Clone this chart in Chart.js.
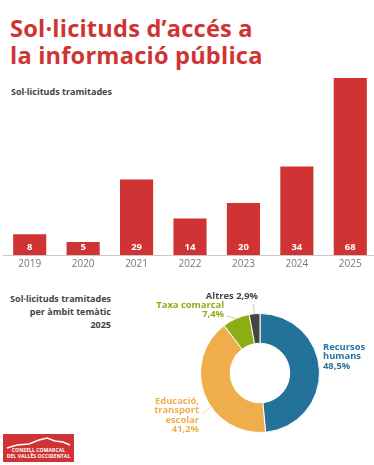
<!DOCTYPE html>
<html><head><meta charset="utf-8">
<script src="https://cdn.jsdelivr.net/npm/chart.js@4.4.1/dist/chart.umd.min.js"></script>
<style>
html,body{margin:0;padding:0;background:#fff;width:374px;height:465px;overflow:hidden;position:relative;font-family:"Open Sans",sans-serif;}
#title{position:absolute;left:10px;top:14.5px;margin:0;font-size:23.6px;line-height:27px;font-weight:700;color:#d03333;letter-spacing:0.2px;}
.sub{position:absolute;font-size:9px;font-weight:700;color:#444;line-height:13px;}
#sub1{left:11px;top:85px;}
#sub2{left:0;width:111px;text-align:right;top:291.5px;}
#barWrap{position:absolute;left:0;top:68px;width:377px;height:205px;}
#donutWrap{position:absolute;left:140px;top:280px;width:234px;height:185px;}
#logo{position:absolute;left:3px;top:434px;width:71px;height:28px;background:#d03333;}
#logo svg{position:absolute;left:0;top:0;}
#logo .t{position:absolute;left:0;width:71px;text-align:center;color:#fff;font-size:5px;font-weight:700;line-height:6px;letter-spacing:0.1px;}
</style></head>
<body>
<h1 id="title">Sol·licituds d’accés a<br>la informació pública</h1>
<div class="sub" id="sub1">Sol·licituds tramitades</div>
<div class="sub" id="sub2">Sol·licituds tramitades<br>per àmbit temàtic<br>2025</div>
<div id="barWrap"><canvas id="bar"></canvas></div>
<div id="donutWrap"><canvas id="donut"></canvas></div>
<div id="logo">
<svg width="71" height="28" viewBox="0 0 71 28"><polyline points="4,14 14,11 26,10 36,6 44,4 52,7 60,8 67,11" fill="none" stroke="#fff" stroke-width="1.4"/></svg>
<div class="t" style="top:13px">CONSELL COMARCAL</div>
<div class="t" style="top:19px">DEL VALLÈS OCCIDENTAL</div>
</div>
<script>
// ---- data ----
const years = ['2019','2020','2021','2022','2023','2024','2025'];
const requests = [8, 5, 29, 14, 20, 34, 68];
const topics = ['Recursos humans','Educació, transport escolar','Taxa comarcal','Altres'];
const topicShares = [48.5, 41.2, 7.4, 2.9];
const topicLabelLines = [['Recursos','humans'],['Educació,','transport','escolar'],['Taxa comarcal'],['Altres']];

const RED = '#d03333';
const topicColors = ['#22729a','#efad4b','#8cad14','#444444'];
const topicTextColors = ['#2774a0','#efad4b','#8cad14','#444444'];
const FONT = '"Open Sans", sans-serif';

// ---- bar chart ----
const barValuePlugin = {
  id: 'barValues',
  afterDatasetsDraw(chart) {
    const ctx = chart.ctx;
    const meta = chart.getDatasetMeta(0);
    ctx.save();
    ctx.fillStyle = '#fff';
    ctx.font = '700 9.5px ' + FONT;
    ctx.textAlign = 'center';
    ctx.textBaseline = 'middle';
    meta.data.forEach((bar, i) => {
      ctx.fillText(String(chart.data.datasets[0].data[i]), bar.x, bar.base - 8);
    });
    ctx.restore();
  }
};

new Chart(document.getElementById('bar'), {
  type: 'bar',
  data: { labels: years, datasets: [{ data: requests, backgroundColor: RED, borderWidth: 0,
    barPercentage: 0.62, categoryPercentage: 1 }] },
  options: {
    responsive: true, maintainAspectRatio: false, animation: false,
    layout: { padding: { left: 3, right: 0, top: 10, bottom: 0 } },
    plugins: { legend: { display: false }, tooltip: { enabled: false } },
    scales: {
      x: { grid: { display: false, drawTicks: false }, border: { display: true, color: '#c8c8c8', width: 1 },
        ticks: { color: '#777', font: { family: FONT, size: 10 }, padding: 3 } },
      y: { display: false, min: 0, max: 68 }
    }
  },
  plugins: [barValuePlugin]
});

// ---- donut chart ----
// label placement: text anchor offsets from chart centre and leader line (fraction along slice, end offset)
const labelPlacement = [
  { align: 'left',  dx: 63,  dy: -26, lh: 9.6, leader: null },
  { align: 'right', dx: -61, dy: 28,  lh: 9.6, leader: { frac: 0.41, ex: -58, ey: 41 } },
  { align: 'right', dx: -36, dy: -68, lh: 9.2, leader: { frac: 0.5, ex: -33, ey: -57 } },
  { align: 'right', dx: -2,  dy: -77, lh: 9.6, leader: { frac: 0.5, ex: -7, ey: -69 }, inline: true }
];
const fmt = v => v.toFixed(1).replace('.', ',') + '%';

const donutLabelPlugin = {
  id: 'donutLabels',
  afterDatasetsDraw(chart) {
    const ctx = chart.ctx;
    const meta = chart.getDatasetMeta(0);
    ctx.save();
    ctx.font = '700 9.4px ' + FONT;
    ctx.textBaseline = 'middle';
    meta.data.forEach((arc, i) => {
      const p = labelPlacement[i];
      const cx = arc.x, cy = arc.y;
      const col = topicTextColors[i];
      if (p.leader) {
        const a = arc.startAngle + (arc.endAngle - arc.startAngle) * p.leader.frac;
        const sx = cx + Math.cos(a) * arc.outerRadius, sy = cy + Math.sin(a) * arc.outerRadius;
        ctx.strokeStyle = i === 3 ? '#888' : col;
        ctx.globalAlpha = 0.6;
        ctx.lineWidth = 0.8;
        ctx.beginPath(); ctx.moveTo(sx, sy); ctx.lineTo(cx + p.leader.ex, cy + p.leader.ey); ctx.stroke();
        ctx.globalAlpha = 1;
      }
      let lines = topicLabelLines[i].slice();
      const pct = fmt(chart.data.datasets[0].data[i]);
      if (p.inline) lines[lines.length - 1] += ' ' + pct; else lines.push(pct);
      ctx.fillStyle = col;
      ctx.textAlign = p.align;
      lines.forEach((ln, k) => ctx.fillText(ln, cx + p.dx, cy + p.dy + k * p.lh));
    });
    ctx.restore();
  }
};

new Chart(document.getElementById('donut'), {
  type: 'doughnut',
  data: { labels: topics, datasets: [{ data: topicShares, backgroundColor: topicColors,
    borderColor: '#fff', borderWidth: 1 }] },
  options: {
    responsive: true, maintainAspectRatio: false, animation: false,
    cutout: '50%',
    layout: { padding: { left: 60, right: 54, top: 33, bottom: 32 } },
    plugins: { legend: { display: false }, tooltip: { enabled: false } }
  },
  plugins: [donutLabelPlugin]
});
</script>
</body></html>
